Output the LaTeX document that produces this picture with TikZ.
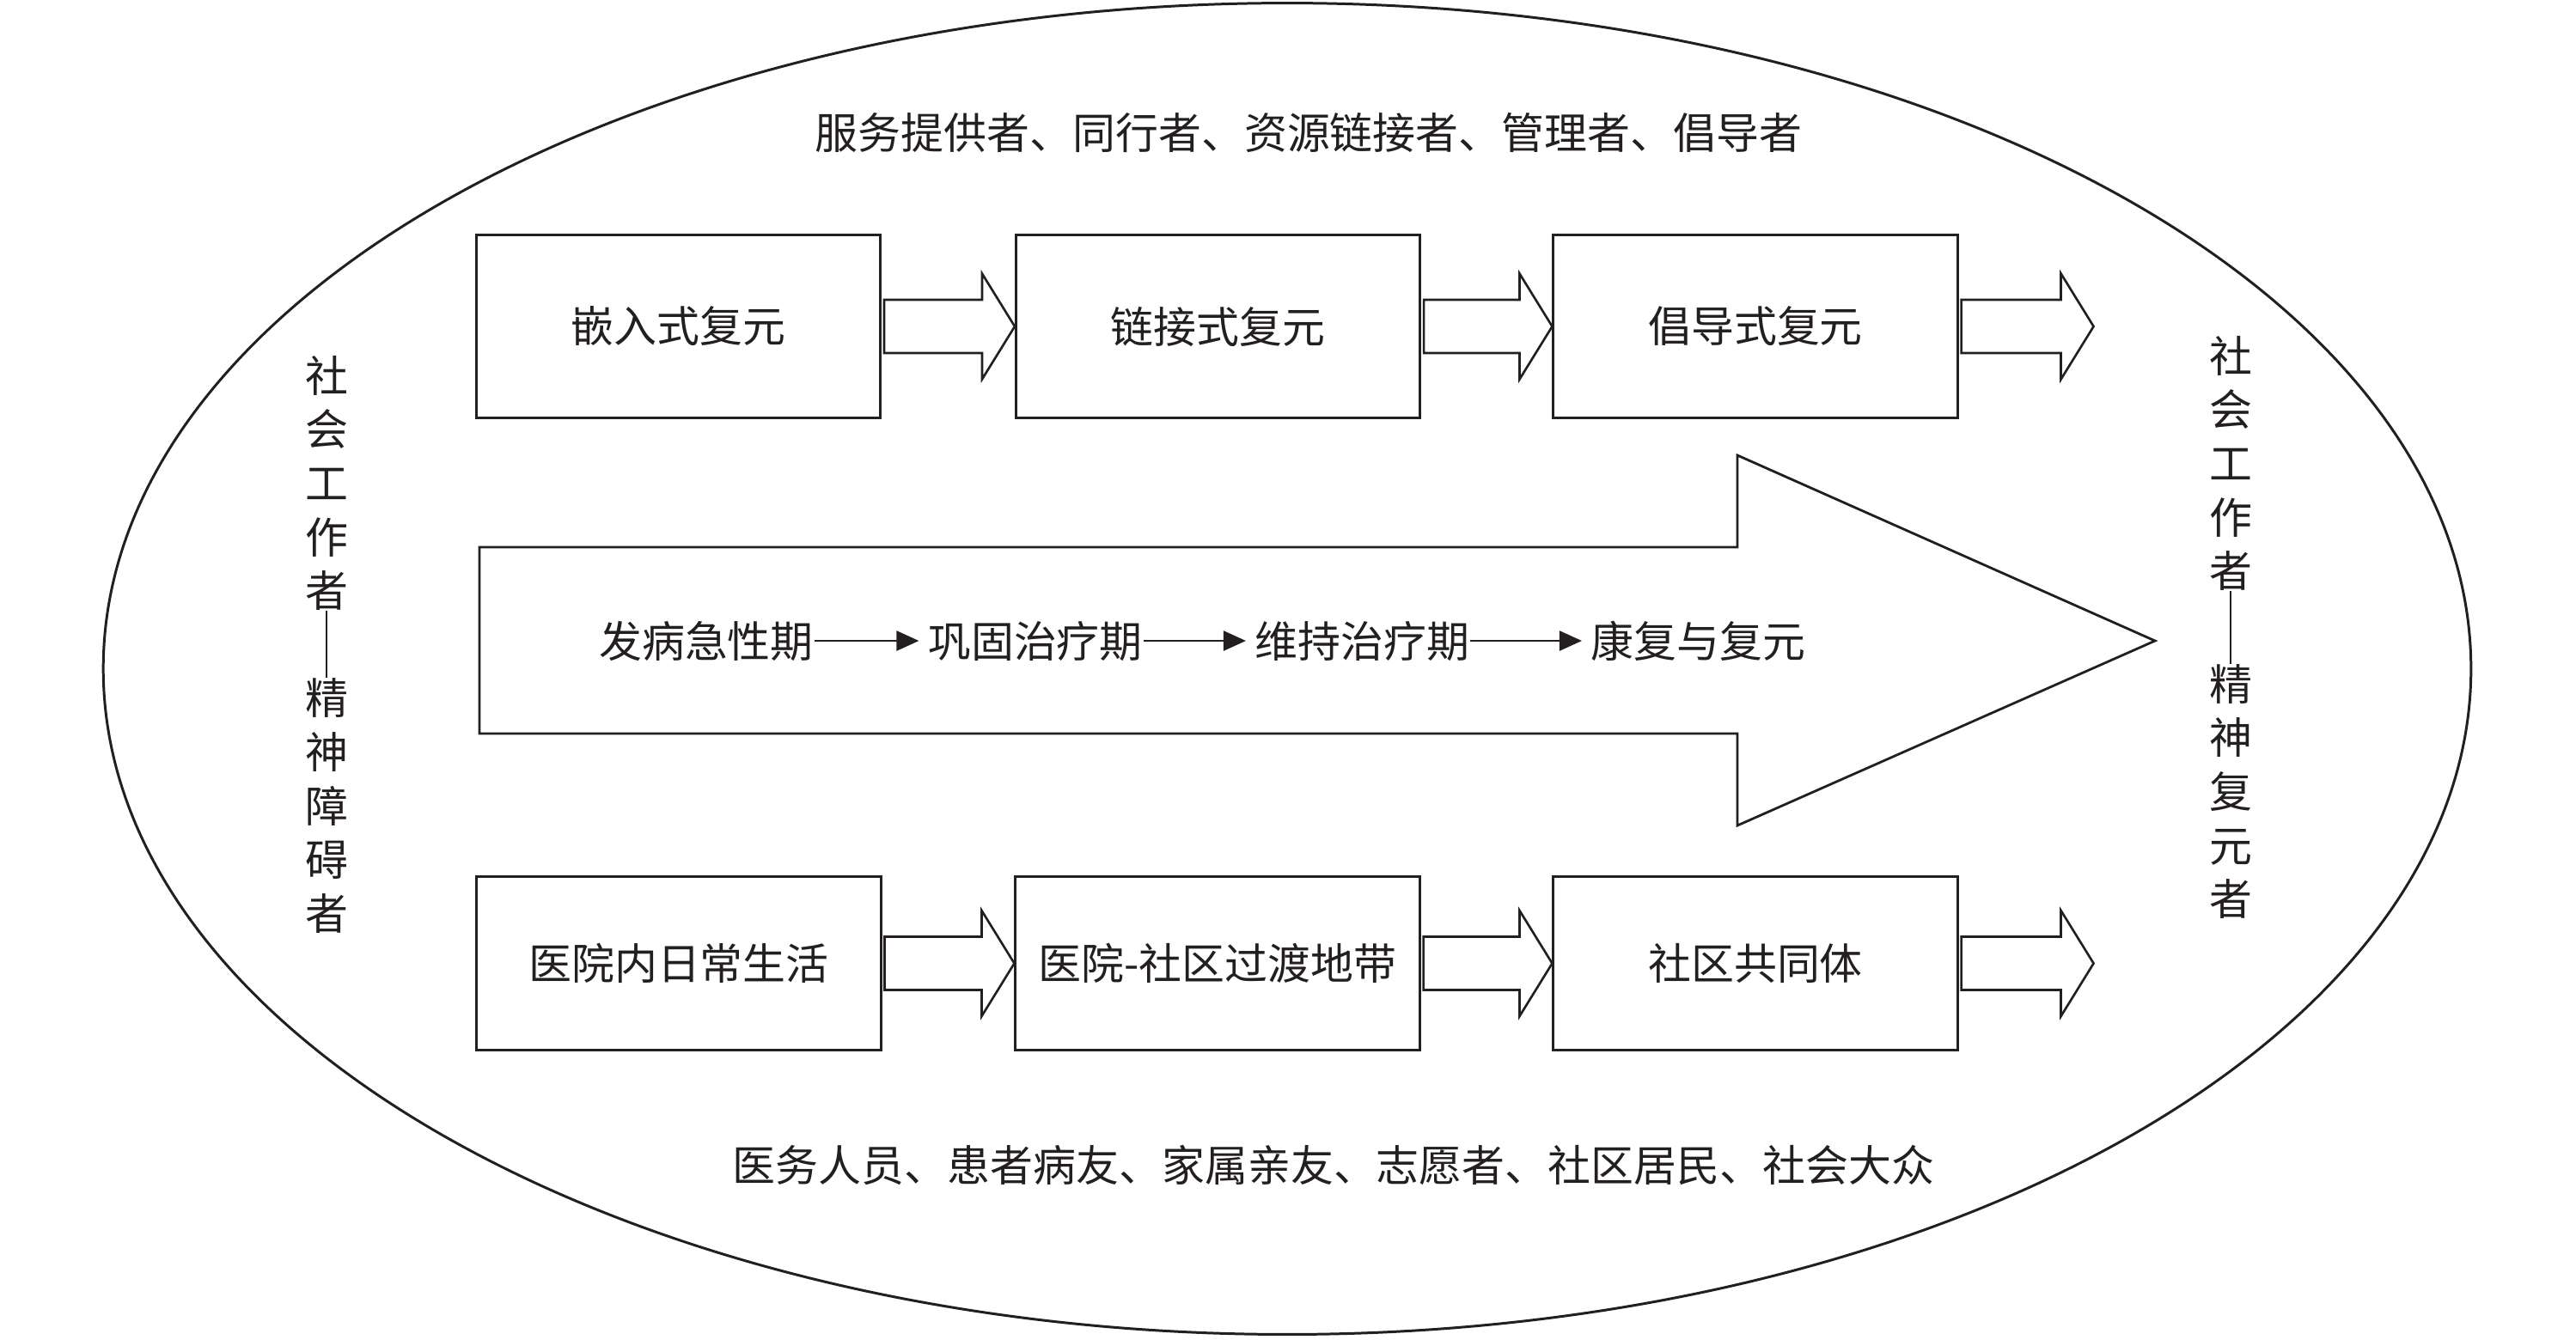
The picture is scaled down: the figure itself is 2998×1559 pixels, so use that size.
\documentclass[tikz,border=0pt]{standalone}
\usepackage{fontspec}
\setmainfont{Noto Sans CJK SC}
\usetikzlibrary{calc,arrows.meta}
\definecolor{ink}{RGB}{35,31,32}
\newcommand\cnfont{\fontsize{14.2}{17.8}\selectfont}
\newcommand\blockarrow[2]{%
  \draw[blockarr] let \p1=(#1), \p2=(#2) in
    (\x1,\y1+0.31cm) -- (\x2-0.38cm,\y1+0.31cm) -- (\x2-0.38cm,\y1+0.615cm) --
    (\x2,\y1) -- (\x2-0.38cm,\y1-0.615cm) -- (\x2-0.38cm,\y1-0.31cm) --
    (\x1,\y1-0.31cm) -- cycle;}
\tikzset{
  every node/.style={inner sep=0pt, text=ink, font=\cnfont},
  stagebox/.style={draw=ink, line width=0.8pt, minimum width=4.7cm},
  topbox/.style={stagebox, minimum height=2.13cm},
  botbox/.style={stagebox, minimum height=2.02cm},
  blockarr/.style={draw=ink, line width=0.75pt, line join=miter},
  bigarr/.style={draw=ink, line width=0.8pt, line join=miter},
  phasearr/.style={draw=ink, line width=0.7pt, -{Triangle[length=0.26cm, width=0.23cm]}, shorten >=0.1cm},
  vtext/.style={align=center},
  sepline/.style={draw=ink, line width=0.45pt},
  outer/.style={draw=ink, line width=0.85pt}
}
\begin{document}
\begin{tikzpicture}[x=0.01cm, y=-0.01cm]
\useasboundingbox (0,0) rectangle (2998,1559);
% outer ellipse
\draw[outer] (1498,778.5) ellipse [x radius=13.77cm, y radius=7.745cm];
% labels top and bottom
\node (roles) at (1523,154) {服务提供者、同行者、资源链接者、管理者、倡导者};
\node (actors) at (1552,1356) {医务人员、患者病友、家属亲友、志愿者、社区居民、社会大众};
% top row
\node[topbox] (t1) at (789.5,380) {嵌入式复元};
\node[topbox] (t2) at (1417.5,380) {链接式复元};
\node[topbox] (t3) at (2043,380) {倡导式复元};
\coordinate (t4) at ($(t3.east)+(157,0)$);
\blockarrow{$(t1.east)+(3,0)$}{t2.west}
\blockarrow{$(t2.east)+(3,0)$}{t3.west}
\blockarrow{$(t3.east)+(3,0)$}{t4}
% bottom row
\node[botbox] (b1) at (790,1121.5) {医院内日常生活};
\node[botbox] (b2) at (1417,1121.5) {医院-社区过渡地带};
\node[botbox] (b3) at (2043,1121.5) {社区共同体};
\coordinate (b4) at ($(b3.east)+(157,0)$);
\blockarrow{$(b1.east)+(3,0)$}{b2.west}
\blockarrow{$(b2.east)+(3,0)$}{b3.west}
\blockarrow{$(b3.east)+(3,0)$}{b4}
% big arrow
\draw[bigarr] (558,637) -- (2022,637) -- (2022,530) -- (2508,746) -- (2022,961) -- (2022,854) -- (558,854) -- cycle;
% phases
\node (p1) at (822,746) {发病急性期};
\node (p2) at (1205,746) {巩固治疗期};
\node (p3) at (1585.5,746) {维持治疗期};
\node (p4) at (1976.5,746) {康复与复元};
\draw[phasearr] (p1.east) -- (p2.west);
\draw[phasearr] (p2.east) -- (p3.west);
\draw[phasearr] (p3.east) -- (p4.west);
% left vertical text
\node[vtext] (l1) at (380,562.5) {社\\会\\工\\作\\者};
\node[vtext] (l2) at (380,938) {精\\神\\障\\碍\\者};
\draw[sepline] (l1.south) -- (l2.north);
% right vertical text
\node[vtext] (r1) at (2596,539.5) {社\\会\\工\\作\\者};
\node[vtext] (r2) at (2596,921.5) {精\\神\\复\\元\\者};
\draw[sepline] (r1.south) -- (r2.north);
\end{tikzpicture}
\end{document}
